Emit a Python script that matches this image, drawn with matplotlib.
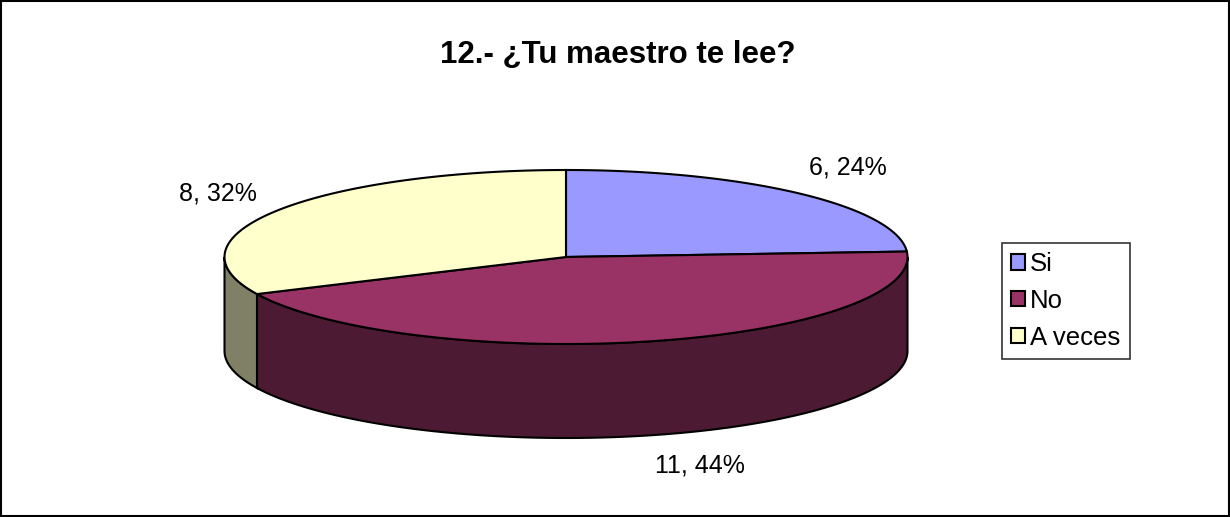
import numpy as np
import matplotlib
matplotlib.use('Agg')
import matplotlib.pyplot as plt
from matplotlib.patches import Polygon, Patch, Rectangle

plt.rcParams['font.family'] = ['Liberation Sans', 'DejaVu Sans']

# --- datos ---
categories = ['Si', 'No', 'A veces']
counts = [6, 11, 8]
top_colors = ['#9999FF', '#993366', '#FFFFCC']
side_colors = ['#4D4D80', '#4D1A33', '#808066']
title = '12.- ¿Tu maestro te lee?'

# --- geometría del pastel (en píxeles) ---
cx, cy = 566, 257
ra, rb = 341.5, 87
depth = 94
label_pos = [(848, 168), (700, 465), (218, 194)]


def ell(theta_deg, dz=0):
    t = np.radians(theta_deg)
    return np.column_stack([cx + ra * np.cos(t), cy - rb * np.sin(t) + dz])


fig = plt.figure(figsize=(12.3, 5.17), dpi=100)
ax = fig.add_axes([0, 0, 1, 1])
ax.set_xlim(0, 1230)
ax.set_ylim(517, 0)
ax.axis('off')

total = sum(counts)
fracs = [c / total for c in counts]
starts = 90 - 360 * np.concatenate([[0], np.cumsum(fracs)[:-1]])
ends = starts - 360 * np.array(fracs)

# caras laterales (solo la mitad frontal, angulos -180..0)
for s, e, sc in zip(starts, ends, side_colors):
    for off in (0, 360, -360):
        lo, hi = max(e + off, -180), min(s + off, 0)
        if hi > lo:
            th = np.linspace(hi, lo, 120)
            pts = np.vstack([ell(th), ell(th[::-1], depth)])
            ax.add_patch(Polygon(pts, closed=True, facecolor=sc,
                                 edgecolor='black', lw=1.5, zorder=2))

# cara superior
for s, e, tc in zip(starts, ends, top_colors):
    th = np.linspace(s, e, 200)
    pts = np.vstack([[cx, cy], ell(th)])
    ax.add_patch(Polygon(pts, closed=True, facecolor=tc,
                         edgecolor='black', lw=1.5, zorder=3))

# etiquetas de datos
for c, f, (lx, ly) in zip(counts, fracs, label_pos):
    ax.text(lx, ly, f'{c}, {round(f * 100)}%', fontsize=18,
            ha='center', va='center', color='black')

ax.text(618, 55, title, fontsize=22.5, fontweight='bold',
        ha='center', va='center')

handles = [Patch(facecolor=c, edgecolor='black', lw=1.5) for c in top_colors]
leg = ax.legend(handles, categories, loc='upper left',
                bbox_to_anchor=(1002 / 1230, 1 - 243 / 517),
                fontsize=18.5, frameon=True, fancybox=False,
                handlelength=0.55, handleheight=0.55, handletextpad=0.2,
                borderpad=0.35, labelspacing=0.5, borderaxespad=0)
leg.get_frame().set_edgecolor('black')
leg.get_frame().set_linewidth(1.2)

# marco exterior
fig.patches.append(Rectangle((0.001, 0.002), 0.998, 0.996, transform=fig.transFigure,
                             fill=False, edgecolor='black', lw=1.5))

fig.savefig('out.png', dpi=100)
